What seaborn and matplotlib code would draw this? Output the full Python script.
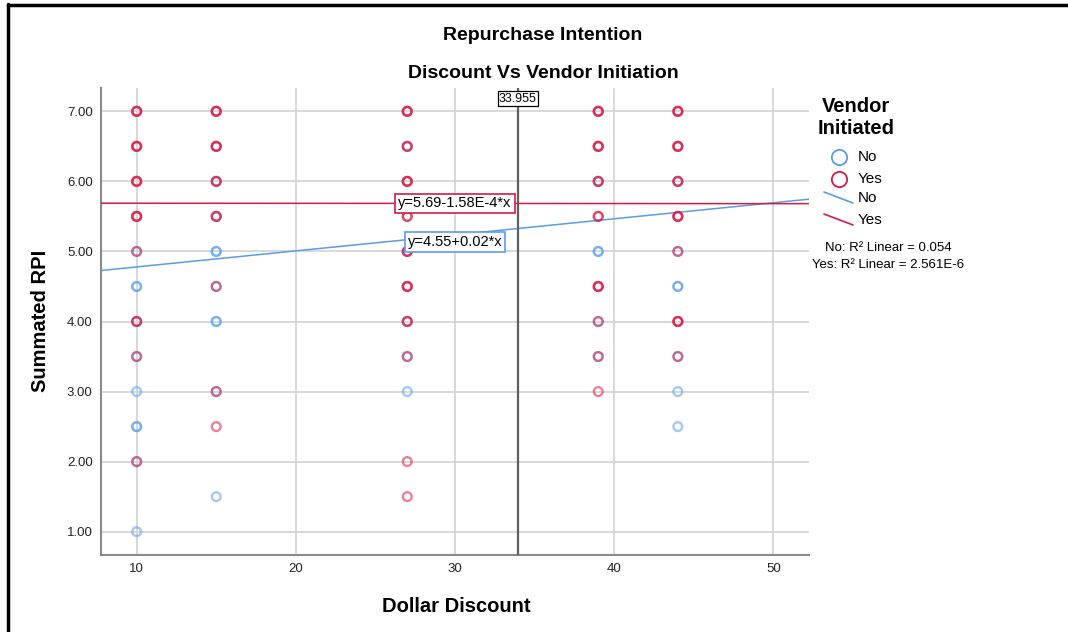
import numpy as np
import pandas as pd
import matplotlib
matplotlib.use("Agg")
import matplotlib.pyplot as plt
from matplotlib.lines import Line2D
import seaborn as sns

# ---------------- data ----------------
no_x = [10, 10, 10, 10, 10, 10, 10, 10,
        15, 15, 15, 15, 15, 15, 15,
        27, 27, 27, 27, 27,
        39, 39, 39, 39,
        44, 44, 44, 44, 44, 44]
no_y = [5.0, 4.5, 4.0, 3.5, 3.0, 2.5, 2.0, 1.0,
        6.0, 5.5, 5.0, 4.5, 4.0, 3.0, 1.5,
        6.5, 5.0, 4.0, 3.5, 3.0,
        6.0, 5.0, 4.0, 3.5,
        6.0, 5.0, 4.5, 3.5, 3.0, 2.5]
no_n = [1, 2, 1, 1, 1, 2, 1, 1,
        1, 1, 2, 1, 2, 1, 1,
        1, 1, 1, 1, 1,
        1, 2, 1, 1,
        1, 1, 2, 1, 1, 1]

yes_x = [10, 10, 10, 10, 10, 10, 10, 10,
         15, 15, 15, 15, 15, 15, 15,
         27, 27, 27, 27, 27, 27, 27, 27, 27, 27,
         39, 39, 39, 39, 39, 39, 39, 39,
         44, 44, 44, 44, 44, 44, 44]
yes_y = [7.0, 6.5, 6.0, 5.5, 5.0, 4.0, 3.5, 2.0,
         7.0, 6.5, 6.0, 5.5, 4.5, 3.0, 2.5,
         7.0, 6.5, 6.0, 5.5, 5.0, 4.5, 4.0, 3.5, 2.0, 1.5,
         7.0, 6.5, 6.0, 5.5, 4.5, 4.0, 3.5, 3.0,
         7.0, 6.5, 6.0, 5.5, 5.0, 4.0, 3.5]
yes_n = [3, 3, 3, 3, 1, 2, 1, 1,
         3, 3, 2, 2, 1, 1, 1,
         3, 2, 3, 2, 2, 3, 2, 1, 1, 1,
         3, 3, 2, 2, 3, 1, 1, 1,
         3, 3, 2, 3, 1, 3, 1]

groups = ["No", "Yes"]
fit_intercept = [4.55, 5.69]
fit_slope = [0.0229, -1.58e-4]
fit_labels = ["y=4.55+0.02*x", "y=5.69-1.58E-4*x"]
r2_labels = ["No: R\u00b2 Linear = 0.054", "Yes: R\u00b2 Linear = 2.561E-6"]
ref_x = 33.955

x_ticks = [10, 20, 30, 40, 50]
y_ticks = [1, 2, 3, 4, 5, 6, 7]

title1 = "Repurchase Intention"
title2 = "Discount Vs Vendor Initiation"
x_label = "Dollar Discount"
y_label = "Summated RPI"
legend_title = ["Vendor", "Initiated"]

# ---------------- styling ----------------
sns.set_theme(style="white")
plt.rcParams["font.family"] = ["Liberation Sans", "DejaVu Sans"]
plt.rcParams["text.color"] = "black"

BLUE = "#5A9CE8"
RED = "#D61A46"
palette = {"No": BLUE, "Yes": RED}

W, H = 1068, 632
fig = plt.figure(figsize=(W / 100, H / 100), dpi=100)


def fx(px):
    return px / W


def fy(py):
    return 1 - py / H


ax = fig.add_axes([fx(101), fy(555), fx(809) - fx(101), fy(88) - fy(555)])

df = pd.concat([
    pd.DataFrame({"x": np.repeat(no_x, no_n), "y": np.repeat(no_y, no_n), "Vendor": "No"}),
    pd.DataFrame({"x": np.repeat(yes_x, yes_n), "y": np.repeat(yes_y, yes_n), "Vendor": "Yes"}),
], ignore_index=True)

sns.scatterplot(data=df, x="x", y="y", hue="Vendor", palette=palette, ax=ax,
                s=40, linewidth=1.7, alpha=0.55, legend=False, zorder=4)
for coll in ax.collections:
    fc = coll.get_facecolors()
    coll.set_edgecolors(fc)
    coll.set_facecolors("none")

ax.set_xlim(7.76, 52.24)
ax.set_ylim(0.667, 7.333)

# fit lines
xs = np.array(ax.get_xlim())
for g, b0, b1 in zip(groups, fit_intercept, fit_slope):
    sns.lineplot(x=xs, y=b0 + b1 * xs, color=palette[g], lw=1.1, ax=ax, zorder=3)

# reference line
ax.axvline(ref_x, color="#5f5f5f", lw=1.6, zorder=3)
ax.text(ref_x, 7.333 - 0.15, f"{ref_x:.3f}", ha="center", va="center", fontsize=9,
        color="black", zorder=6,
        bbox=dict(boxstyle="square,pad=0.1", fc="white", ec="black", lw=0.9))

# equation labels
ax.text(30.0, fit_intercept[1] + fit_slope[1] * 30.0, fit_labels[1], ha="center", va="center",
        fontsize=10.5, color="black", zorder=6,
        bbox=dict(boxstyle="square,pad=0.2", fc="white", ec=RED, lw=1.2))
ax.text(30.0, 5.14, fit_labels[0], ha="center", va="center",
        fontsize=10.5, color="black", zorder=6,
        bbox=dict(boxstyle="square,pad=0.2", fc="white", ec=BLUE, lw=1.2))

ax.set_xticks(x_ticks)
ax.set_yticks(y_ticks)
ax.set_yticklabels([f"{v:.2f}" for v in y_ticks])
ax.tick_params(axis="both", labelsize=9.5, colors="#222222", length=0, pad=6)
ax.grid(True, color="#d2d2d2", lw=1.2, zorder=0)
ax.set_axisbelow(True)
for side in ["top", "right"]:
    ax.spines[side].set_visible(False)
for side in ["left", "bottom"]:
    ax.spines[side].set_color("#8a8a8a")
    ax.spines[side].set_linewidth(1.5)
ax.set_xlabel("")
ax.set_ylabel("")

# titles and axis labels
fig.text(fx(543), fy(36), title1, ha="center", va="center", fontsize=14, fontweight="bold")
fig.text(fx(543), fy(74), title2, ha="center", va="center", fontsize=14, fontweight="bold")
fig.text(fx(456), fy(607), x_label, ha="center", va="center", fontsize=14.5, fontweight="bold")
fig.text(fx(40), fy(321), y_label, ha="center", va="center", fontsize=14.5, fontweight="bold",
         rotation=90)

# legend (manual, figure coordinates)
for txt, py in zip(legend_title, [107, 128]):
    fig.text(fx(856), fy(py), txt, ha="center", va="center", fontsize=14.5, fontweight="bold")
for g, py in zip(groups, [157, 179]):
    fig.add_artist(Line2D([fx(839)], [fy(py)], marker="o", ms=11, mfc="none",
                          mec=palette[g], mew=1.3, lw=0, transform=fig.transFigure))
    fig.text(fx(858), fy(py), g, ha="left", va="center", fontsize=11)
for g, py in zip(groups, [198, 220]):
    fig.add_artist(Line2D([fx(824), fx(853)], [fy(py - 6), fy(py + 5)], color=palette[g],
                          lw=1.2, transform=fig.transFigure))
    fig.text(fx(858), fy(py), g, ha="left", va="center", fontsize=11)
for txt, py in zip(r2_labels, [248, 265]):
    fig.text(fx(888), fy(py), txt, ha="center", va="center", fontsize=9.5)

# outer frame (left and top)
fig.add_artist(Line2D([fx(8), fx(8)], [fy(4), 0], color="black", lw=2.5, transform=fig.transFigure))
fig.add_artist(Line2D([fx(8), 1], [fy(4.5), fy(4.5)], color="black", lw=2.5, transform=fig.transFigure))

fig.savefig("out.png", dpi=100)
